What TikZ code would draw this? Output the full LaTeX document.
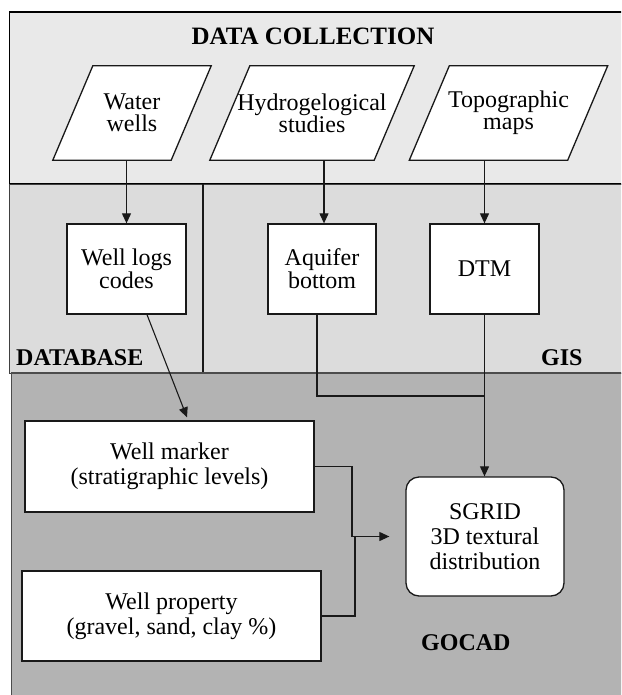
\documentclass[tikz,border=0pt]{standalone}
\usepackage{fontspec}
\setmainfont{Liberation Serif}
\usetikzlibrary{arrows.meta}
\pgfdeclarelayer{background}
\pgfsetlayers{background,main}
\definecolor{grayA}{HTML}{E9E9E9}
\definecolor{grayB}{HTML}{DCDCDC}
\definecolor{grayC}{HTML}{B3B3B3}
\tikzset{
  txt/.style={font=\fontsize{24}{25}\selectfont, align=center, inner sep=0pt},
  parabox/.style={txt, font=\fontsize{24}{22}\selectfont, draw=none, minimum height=94pt},
  paraline/.style={draw=black!90, line width=1.3pt, fill=white},
  plainbox/.style={txt, draw=black!90, line width=1.3pt, fill=white},
  midbox/.style={plainbox, font=\fontsize{24}{20}\selectfont, minimum height=90pt},
  conn/.style={line width=1.1pt, draw=black!90},
  arr/.style={conn, -{Triangle[length=10pt,width=9pt]}},
  head/.style={font=\fontsize{24}{28}\selectfont\bfseries, inner sep=0pt},
}
\begin{document}
\begin{tikzpicture}[x=1pt,y=-1pt]
\useasboundingbox (0,0) rectangle (621,695);
\begin{pgfonlayer}{background}
  \clip (0,0) rectangle (621,695);
  \path[draw=black, line width=1.8pt, fill=grayA] (9.5,12) rectangle (640,184);
  \path[draw=black!75, line width=1pt, fill=grayB] (9.5,184) rectangle (640,373);
  \draw[line width=1.4pt, black!90] (203,184) -- (203,373);
  \path[draw=black!70, line width=1.8pt, fill=grayC] (11.5,373) rectangle (640,710);
\end{pgfonlayer}

% headings
\node[head, font=\fontsize{25}{30}\selectfont\bfseries, anchor=base] (t1) at (313,45) {DATA COLLECTION};
\node[head, anchor=base west] (t2) at (16,365) {DATABASE};
\node[head, anchor=base west] (t3) at (541,365) {GIS};
\node[head, anchor=base west] (t4) at (421,650) {GOCAD};

% data sources (parallelograms)
\node[parabox, minimum width=118pt] (ww) at (132,113) {Water\\wells};
\node[parabox, minimum width=164pt] (hs) at (312,113) {Hydrogelogical\\studies};
\node[parabox, minimum width=158pt] (tm) at (508.5,113) {Topographic\\maps};
\begin{pgfonlayer}{background}
  \foreach \n in {ww,hs,tm}{
    \draw[paraline] ([xshift=20pt]\n.north west) -- ([xshift=20pt]\n.north east)
      -- ([xshift=-20pt]\n.south east) -- ([xshift=-20pt]\n.south west) -- cycle;
  }
\end{pgfonlayer}

% middle boxes
\node[midbox, minimum width=119pt] (wl) at (126.5,269) {Well logs\\codes};
\node[midbox, minimum width=108pt] (aq) at (322,269) {Aquifer\\bottom};
\node[midbox, minimum width=109pt] (dtm) at (484.5,269) {DTM};

% GOCAD boxes
\node[plainbox, minimum width=289pt, minimum height=91pt] (wm) at (169.5,466.5) {Well marker\\(stratigraphic levels)};
\node[plainbox, minimum width=299pt, minimum height=90pt] (wp) at (171.5,616) {Well property\\(gravel, sand, clay \%)};
\node[plainbox, rounded corners=13pt, minimum width=158pt, minimum height=119pt] (sg) at (485,536.5) {SGRID\\3D textural\\distribution};

% connectors
\draw[arr] (wl.north |- ww.south) -- (wl.north);
\draw[arr] ([xshift=2pt]aq.north |- hs.south) -- ([xshift=2pt]aq.north);
\draw[arr] (dtm.north |- tm.south) -- (dtm.north);
\draw[arr] ([xshift=20.5pt]wl.south) -- ([xshift=17.5pt,yshift=3pt]wm.north);
\coordinate (j1) at (484.5,396);
\draw[conn] ([xshift=-5pt]aq.south) |- (j1);
\draw[arr] (dtm.south) -- (dtm.south |- sg.north);
\coordinate (j2) at (352,536.5);
\coordinate (j3) at (355,536.5);
\draw[conn] (wm.east) -| (j2);
\draw[conn] (wp.east) -| (j3);
\draw[arr] (j2) -- ([xshift=-16pt]sg.west);
\end{tikzpicture}
\end{document}
